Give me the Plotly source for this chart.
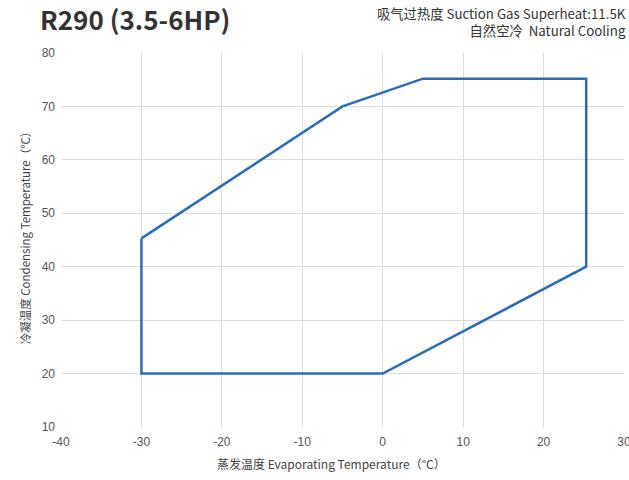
import plotly.graph_objects as go

evap_temp = [-30, -5, 5, 25.3, 25.3, 0, -30, -30]
cond_temp = [45.3, 70, 75.2, 75.2, 40, 20, 20, 45.3]

x_ticks = [-40, -30, -20, -10, 0, 10, 20, 30]
x_tick_labels = ["-40", "-30", "-20", "-10", "0", "10", "20", "30"]
y_ticks = [10, 20, 30, 40, 50, 60, 70, 80]
y_tick_labels = ["10", "20", "30", "40", "50", "60", "70", "80"]

fig = go.Figure()
fig.add_trace(go.Scatter(
    x=evap_temp, y=cond_temp, mode="lines",
    line=dict(color="#2b6cb8", width=2.5),
    showlegend=False, hoverinfo="skip"))

cjk = "Noto Sans CJK SC"
tickfont = dict(family="Liberation Sans, Arial", size=12, color="#555")
fig.update_layout(
    width=629, height=480,
    margin=dict(l=61, r=5, t=53, b=53, autoexpand=False),
    paper_bgcolor="white", plot_bgcolor="white",
    xaxis=dict(range=[-40, 30], tickvals=x_ticks, ticktext=x_tick_labels,
               showgrid=True, gridcolor="#dcdcdc", gridwidth=1, zeroline=False,
               showline=False, ticks="", ticklabelstandoff=6,
               ticklabeloverflow="allow",
               tickfont=tickfont, automargin=False),
    yaxis=dict(range=[10, 80], tickvals=y_ticks, ticktext=y_tick_labels,
               showgrid=True, gridcolor="#dcdcdc", gridwidth=1, zeroline=False,
               showline=False, ticks="", ticklabelstandoff=5,
               ticklabeloverflow="allow",
               tickfont=tickfont, automargin=False),
    annotations=[
        dict(text="<b>R290 (3.5-6HP)</b>", xref="paper", yref="paper",
             x=-0.04, y=1.0, yshift=35, xanchor="left", yanchor="middle",
             showarrow=False, font=dict(family=cjk, size=26, color="#333")),
        dict(text="吸气过热度 Suction Gas Superheat:11.5K<br>自然空冷  Natural Cooling",
             xref="paper", yref="paper", x=1.0, y=1.0, yshift=31, xshift=4,
             xanchor="right", yanchor="middle", align="right", showarrow=False,
             font=dict(family=cjk, size=13.3, color="#333")),
        dict(text="蒸发温度 Evaporating Temperature（°C）",
             xref="paper", yref="paper", x=0.481, y=0, yshift=-36,
             xanchor="center", yanchor="middle", showarrow=False,
             font=dict(family=cjk, size=12, color="#444")),
        dict(text="冷凝温度 Condensing Temperature（°C）",
             xref="paper", yref="paper", x=-0.064, y=0.515, textangle=-90,
             xanchor="center", yanchor="middle", showarrow=False,
             font=dict(family=cjk, size=11.5, color="#444")),
    ],
)
fig.write_html("out.html", config={"displayModeBar": False},
               post_script="document.body.style.margin='0';document.body.style.overflow='hidden';")
